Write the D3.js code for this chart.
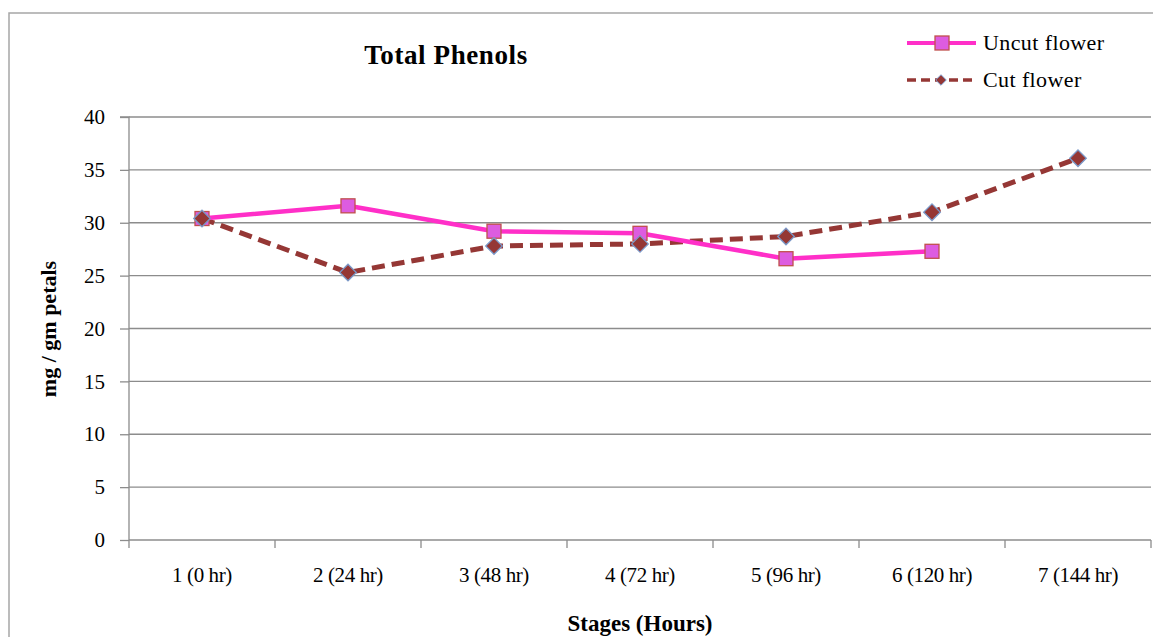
<!DOCTYPE html>
<html><head><meta charset="utf-8">
<script src="https://cdn.jsdelivr.net/npm/d3@7"></script>
<style>body{margin:0;background:#fff}svg{display:block}</style>
</head><body><svg id="c" width="1153" height="637"></svg>
<script>
const categories = ["1 (0 hr)","2 (24 hr)","3 (48 hr)","4 (72 hr)","5 (96 hr)","6 (120 hr)","7 (144 hr)"];
const uncut = [30.4, 31.6, 29.2, 29.0, 26.6, 27.3, null];
const cut = [30.4, 25.3, 27.8, 28.0, 28.7, 31.0, 36.1];
const yTicks = [0,5,10,15,20,25,30,35,40];
const seriesNames = ["Uncut flower","Cut flower"];

const svg = d3.select("#c");
const serif = "'Liberation Serif','Times New Roman',serif";
const L=129, R=1151, T=117, B=540;
const x = d3.scaleBand().domain(categories).range([L,R]);
const y = d3.scaleLinear().domain([0,40]).range([B,T]);
const grey = "#8c8c8c";

// outer border
svg.append("rect").attr("x",9).attr("y",13).attr("width",1150).attr("height",640)
  .attr("fill","none").attr("stroke","#a6a6a6").attr("stroke-width",1.5);

// gridlines
svg.append("g").selectAll("line").data(yTicks.filter(d=>d>0)).join("line")
  .attr("x1",L).attr("x2",R).attr("y1",d=>y(d)).attr("y2",d=>y(d))
  .attr("stroke",grey).attr("stroke-width",1.3);

// y axis
const ya = svg.append("g").attr("transform",`translate(${L},0)`)
  .call(d3.axisLeft(y).tickValues(yTicks).tickSize(9).tickPadding(15));
ya.select(".domain").attr("stroke",grey).attr("stroke-width",1.3).attr("d",`M-9,${T}H0V${B+8}`);
ya.selectAll(".tick line").attr("stroke",grey).attr("stroke-width",1.3);
ya.selectAll("text").attr("font-family",serif).attr("font-size",21).attr("fill","#000");

// x axis
const xa = svg.append("g").attr("transform",`translate(0,${B})`)
  .call(d3.axisBottom(x).tickSize(0).tickPadding(27));
xa.select(".domain").attr("stroke",grey).attr("stroke-width",1.3).attr("d",`M${L},0H${R}`);
xa.selectAll("text").attr("font-family",serif).attr("font-size",21).attr("fill","#000")
  .attr("letter-spacing",-0.4);
xa.selectAll("line.sep").data(categories.map((c,i)=>i+1)).join("line").attr("class","sep")
  .attr("x1",i=>L+i*x.bandwidth()).attr("x2",i=>L+i*x.bandwidth())
  .attr("y1",0).attr("y2",8).attr("stroke",grey).attr("stroke-width",1.3);

const cx = c => x(c)+x.bandwidth()/2;
const uncutPts = categories.map((c,i)=>({c,v:uncut[i]})).filter(d=>d.v!=null);
const cutPts = categories.map((c,i)=>({c,v:cut[i]}));
const line = d3.line().x(d=>cx(d.c)).y(d=>y(d.v));

// lines
svg.append("path").datum(cutPts).attr("d",line)
  .attr("fill","none").attr("stroke","#953735").attr("stroke-width",5).attr("stroke-dasharray","13,7");
svg.append("path").datum(uncutPts).attr("d",line)
  .attr("fill","none").attr("stroke","#ff2fc8").attr("stroke-width",4.5).attr("stroke-linejoin","round");

// markers
svg.append("g").selectAll("rect").data(uncutPts).join("rect")
  .attr("x",d=>cx(d.c)-7).attr("y",d=>y(d.v)-7).attr("width",14).attr("height",14)
  .attr("fill","#dd5ce0").attr("stroke","#c0504d").attr("stroke-width",1.3);
const diamond = d3.symbol().type(d3.symbolDiamond2).size(175);
svg.append("g").selectAll("path").data(cutPts).join("path")
  .attr("d",diamond).attr("transform",d=>`translate(${cx(d.c)},${y(d.v)})`)
  .attr("fill","#953735").attr("stroke","#7a98c8").attr("stroke-width",1.3);

// title
svg.append("text").attr("x",446).attr("y",64).attr("text-anchor","middle")
  .attr("font-family",serif).attr("font-weight","bold").attr("font-size",27)
  .attr("letter-spacing",0.6).text("Total Phenols");

// axis titles
svg.append("text").attr("x",640).attr("y",631).attr("text-anchor","middle")
  .attr("font-family",serif).attr("font-weight","bold").attr("font-size",23).text("Stages (Hours)");
svg.append("text").attr("transform","translate(56,329) rotate(-90)").attr("text-anchor","middle")
  .attr("font-family",serif).attr("font-weight","bold").attr("font-size",22).text("mg / gm petals");

// legend
const lg = svg.append("g");
const ly = [43,80];
lg.append("line").attr("x1",907).attr("x2",976).attr("y1",ly[0]).attr("y2",ly[0])
  .attr("stroke","#ff2fc8").attr("stroke-width",4);
lg.append("rect").attr("x",935).attr("y",ly[0]-7).attr("width",14).attr("height",14)
  .attr("fill","#dd5ce0").attr("stroke","#c0504d").attr("stroke-width",1.3);
lg.append("line").attr("x1",907).attr("x2",976).attr("y1",ly[1]).attr("y2",ly[1])
  .attr("stroke","#953735").attr("stroke-width",3.5).attr("stroke-dasharray","9,5");
lg.append("path").attr("d",d3.symbol().type(d3.symbolDiamond2).size(70))
  .attr("transform",`translate(941,${ly[1]})`).attr("fill","#953735").attr("stroke","#7a98c8").attr("stroke-width",1);
lg.selectAll("text").data(seriesNames).join("text")
  .attr("x",983).attr("y",(d,i)=>ly[i]+7).attr("font-family",serif).attr("font-size",22)
  .attr("letter-spacing",0.4).text(d=>d);
</script></body></html>
